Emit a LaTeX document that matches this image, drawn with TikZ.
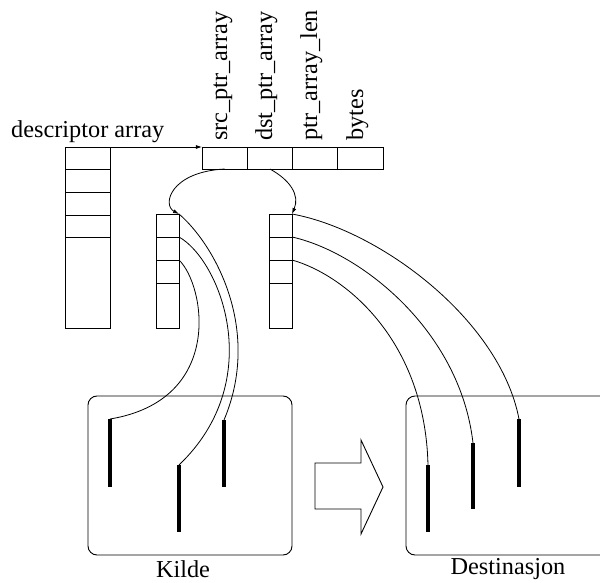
\documentclass[tikz,border=0pt]{standalone}
\usepackage{fontspec}
\setmainfont{Liberation Serif}
\usetikzlibrary{arrows.meta}
\begin{document}
\begin{tikzpicture}[x=1pt,y=-1pt,
  line join=miter,
  cell/.style={draw,line width=0.9pt,inner sep=0pt,outer sep=0pt,minimum width=#1},
  cell/.default=45pt,
  lbl/.style={font=\fontsize{24.3}{29}\selectfont,inner sep=0pt},
  field/.style={lbl,rotate=90,anchor=base west},
  ptr/.style={line width=0.8pt,-{Latex[length=6pt,width=4pt]}},
  link/.style={line width=0.8pt},
  bar/.style={line width=4pt},
  region/.style={draw,line width=0.9pt,rounded corners=9pt}]
\clip (0,0) rectangle (600,583);

% descriptor array column
\node[cell,minimum height=22.7pt] (d1) at (88.2,158.35) {};
\node[cell,minimum height=22.7pt] (d2) at (88.2,181.05) {};
\node[cell,minimum height=22.7pt] (d3) at (88.2,203.75) {};
\node[cell,minimum height=22.7pt] (d4) at (88.2,226.45) {};
\node[cell,minimum height=90.5pt] (d5) at (88.2,283.05) {};
\node[lbl,anchor=base west] (dlabel) at (11,138) {descriptor array};

% one descriptor record
\node[cell=45.25pt,minimum height=22pt] (f1) at (224.6,158) {};
\node[cell=45.25pt,minimum height=22pt] (f2) at (269.9,158) {};
\node[cell=45.25pt,minimum height=22pt] (f3) at (315.1,158) {};
\node[cell=45.25pt,minimum height=22pt] (f4) at (360.4,158) {};
\node[field] (l1) at (227,141) {src\_ptr\_array};
\node[field] (l2) at (272,141) {dst\_ptr\_array};
\node[field] (l3) at (317,141) {ptr\_array\_len};
\node[field] (l4) at (363,141) {bytes};
\draw[ptr] (d1.north east) -- (f1.north west);

% source pointer array
\node[cell=23pt,minimum height=23pt] (s1) at (167.5,225.5) {};
\node[cell=23pt,minimum height=23pt] (s2) at (167.5,248.5) {};
\node[cell=23pt,minimum height=23pt] (s3) at (167.5,271.5) {};
\node[cell=23pt,minimum height=45pt] (s4) at (167.5,305.5) {};

% destination pointer array
\node[cell=23pt,minimum height=23pt] (t1) at (280.5,225.5) {};
\node[cell=23pt,minimum height=23pt] (t2) at (280.5,248.5) {};
\node[cell=23pt,minimum height=23pt] (t3) at (280.5,271.5) {};
\node[cell=23pt,minimum height=45pt] (t4) at (280.5,305.5) {};

\draw[ptr] (f1.south) .. controls (170,172) and (162,205) .. (s1.north east);
\draw[ptr] (f2.south) .. controls (290,180) and (300,195) .. (t1.north east);

% source and destination regions
\node[region,minimum width=204pt,minimum height=159pt] (src) at (190,475.5) {};
\node[region,minimum width=214pt,minimum height=159pt] (dst) at (513,475.5) {};
\node[lbl] (kilde) at (183,569) {Kilde};
\node[lbl] (dest) at (508,569) {Destinasjon};

% data blocks
\coordinate (k1) at (110,419);
\coordinate (k2) at (179,465);
\coordinate (k3) at (224,420);
\coordinate (m1) at (428,465);
\coordinate (m2) at (473,443);
\coordinate (m3) at (519,419);

% source pointers
\draw[link] (s1.north east) .. controls (215,245) and (262,330) .. (k3);
\draw[link] (s2.north east) .. controls (220,260) and (268,380) .. (k2);
\draw[link] (s3.north east) .. controls (205,285) and (225,400) .. (k1);

% destination pointers
\draw[link] (t1.north east) .. controls (380,230) and (500,320) .. (m3);
\draw[link] (t2.north east) .. controls (360,252) and (460,330) .. (m2);
\draw[link] (t3.north east) .. controls (345,275) and (425,340) .. (m1);

\draw[bar] (k1) -- ++(0,68);
\draw[bar] (k2) -- ++(0,67);
\draw[bar] (k3) -- ++(0,67);
\draw[bar] (m1) -- ++(0,67);
\draw[bar] (m2) -- ++(0,66);
\draw[bar] (m3) -- ++(0,68);

% copy direction
\draw[line width=0.9pt] (315,463) -- (361,463) -- (361,440) -- (383,487)
  -- (361,534) -- (361,509) -- (315,509) -- cycle;
\end{tikzpicture}
\end{document}
